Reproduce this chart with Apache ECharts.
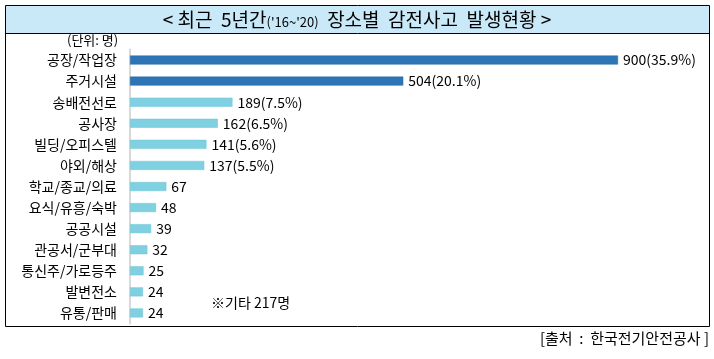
<!DOCTYPE html>
<html><head><meta charset="utf-8">
<script src="https://cdn.jsdelivr.net/npm/echarts@6/dist/echarts.min.js"></script>
<style>html,body{margin:0;padding:0;background:#fff}#c{width:714px;height:359px}</style>
</head><body><div id="c"></div>
<script>
const categories = ['공장/작업장','주거시설','송배전선로','공사장','빌딩/오피스텔','야외/해상','학교/종교/의료','요식/유흥/숙박','공공시설','관공서/군부대','통신주/가로등주','발변전소','유통/판매'];
const values = [900,504,189,162,141,137,67,48,39,32,25,24,24];
const percents = ['35.9%','20.1%','7.5%','6.5%','5.6%','5.5%',null,null,null,null,null,null,null];
const highlightCount = 2;

const font = '"Noto Sans CJK KR", "Noto Sans", sans-serif';
const chart = echarts.init(document.getElementById('c'));
chart.setOption({
  animation: false,
  title: {
    text: '{a|< 최근  5년간}{b|(\'16~\'20)}{a|  장소별  감전사고  발생현황 >}',
    left: 'center', top: 5,
    textStyle: {
      rich: {
        a: {fontFamily: font, fontSize: 19, fontWeight:'normal', color: '#000'},
        b: {fontFamily: font, fontSize: 13, fontWeight:'normal', color: '#000', padding:[5,0,0,0]}
      }
    }
  },
  graphic: [
    {type:'rect', shape:{x:5.5,y:5.5,width:704,height:28}, style:{fill:'#c9e9f8', stroke:null}, z:-10},
    {type:'rect', shape:{x:5.5,y:5.5,width:704,height:321}, style:{fill:null, stroke:'#000', lineWidth:1}},
    {type:'line', shape:{x1:5.5,y1:33.5,x2:709.5,y2:33.5}, style:{stroke:'#000', lineWidth:1}},
    {type:'text', left:67, top:34, style:{text:'(단위: 명)', font:'13px '+font, fill:'#000'}},
    {type:'text', left:211, top:296, style:{text:'※기타 217명', font:'14px '+font, fill:'#000'}},
    {type:'text', right:5, top:331, style:{text:'[출처  :  한국전기안전공사 ]', font:'15px '+font, fill:'#000'}}
  ],
  grid: {left:130, top:49.5, height:274, width:488, containLabel:false},
  xAxis: {type:'value', min:0, max:900, show:false},
  yAxis: {
    type:'category', data: categories, inverse:true,
    axisLine:{show:true, lineStyle:{color:'#d9d9d9', width:2}},
    axisTick:{show:false},
    axisLabel:{fontFamily:font, fontSize:14, color:'#000', margin:13}
  },
  series: [{
    type:'bar', barWidth:9,
    data: values.map((v,i)=>({value:v, itemStyle:{color: i<highlightCount ? '#2e75b6' : '#7fd0e0', borderColor: i<highlightCount ? '#2a6aa6' : '#6fc4d6', borderWidth:0.5}})),
    label:{show:true, position:'right', distance:5, fontFamily:font, fontSize:14, color:'#000',
      formatter: p => percents[p.dataIndex] ? p.value + '(' + percents[p.dataIndex] + ')' : String(p.value)}
  }]
});
</script></body></html>
